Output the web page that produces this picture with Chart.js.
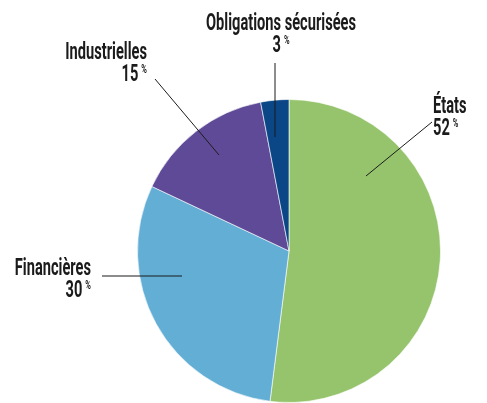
<!DOCTYPE html>
<html>
<head>
<meta charset="utf-8">
<script src="https://cdn.jsdelivr.net/npm/chart.js@4.4.0/dist/chart.umd.min.js"></script>
<style>
  html, body { margin: 0; padding: 0; background: #ffffff; }
  #wrap { width: 487px; height: 403px; position: relative; }
</style>
</head>
<body>
<div id="wrap"><canvas id="c" width="487" height="403"></canvas></div>
<script>
const categories = ['États', 'Financières', 'Industrielles', 'Obligations sécurisées'];
const shares = [52, 30, 15, 3];
const valueLabels = ['52', '30', '15', '3'];
const colors = ['#96c46c', '#63aed5', '#5e4a97', '#0b4687'];

// annotation layout (pixel offsets from the pie centre)
const annot = [
  { align: 'left',   tx: 144,  ty: -138, l1: [77, -75],  l2: [143, -129] },
  { align: 'right',  tx: -198, ty: 24,   l1: [-107, 25], l2: [-187, 25] },
  { align: 'right',  tx: -142, ty: -192, l1: [-70, -96], l2: [-134, -172] },
  { align: 'center', tx: -8,   ty: -221, l1: [-14, -114], l2: [-14, -188] }
];

const FONT = "bold 23px Roboto, 'DejaVu Sans Condensed', sans-serif";
const PFONT = "bold 12px Roboto, 'DejaVu Sans Condensed', sans-serif";
const REF_TEXT = 'Obligations sécurisées';
const REF_WIDTH = 150;
let SX = 0.6;
const LINE = 22;

function drawScaledText(ctx, text, x, y, align) {
  ctx.save();
  ctx.translate(x, y);
  ctx.scale(SX, 1);
  ctx.textAlign = align;
  ctx.fillText(text, 0, 0);
  ctx.restore();
}
function textW(ctx, text, font) {
  ctx.font = font;
  return ctx.measureText(text).width * SX;
}

const labelPlugin = {
  id: 'labels',
  afterDraw(chart) {
    const ctx = chart.ctx;
    const arc = chart.getDatasetMeta(0).data[0];
    const cx = arc.x, cy = arc.y;
    ctx.save();
    ctx.font = FONT;
    SX = REF_WIDTH / ctx.measureText(REF_TEXT).width;
    ctx.fillStyle = '#1b1b1b';
    ctx.strokeStyle = '#1b1b1b';
    ctx.lineWidth = 1;
    ctx.textBaseline = 'alphabetic';
    annot.forEach((a, i) => {
      ctx.beginPath();
      ctx.moveTo(cx + a.l1[0], cy + a.l1[1]);
      ctx.lineTo(cx + a.l2[0], cy + a.l2[1]);
      ctx.stroke();

      const x = cx + a.tx, y = cy + a.ty;
      ctx.font = FONT;
      drawScaledText(ctx, categories[i], x, y, a.align);

      const num = valueLabels[i];
      const nw = textW(ctx, num, FONT);
      const pw = textW(ctx, '%', PFONT);
      const gap = 3;
      const total = nw + gap + pw;
      let startX;
      if (a.align === 'left') startX = x;
      else if (a.align === 'right') startX = x - total;
      else startX = x - total / 2;
      const y2 = y + LINE;
      ctx.font = FONT;
      drawScaledText(ctx, num, startX, y2, 'left');
      ctx.font = PFONT;
      drawScaledText(ctx, '%', startX + nw + gap, y2 - 8, 'left');
    });
    ctx.restore();
  }
};

new Chart(document.getElementById('c'), {
  type: 'pie',
  data: {
    labels: categories,
    datasets: [{
      data: shares,
      backgroundColor: colors,
      borderColor: 'rgba(255,255,255,0.6)',
      borderWidth: 1
    }]
  },
  options: {
    responsive: false,
    animation: false,
    layout: { padding: { top: 99, bottom: 0, left: 137, right: 46 } },
    plugins: { legend: { display: false }, tooltip: { enabled: false } }
  },
  plugins: [labelPlugin]
});
</script>
</body>
</html>
